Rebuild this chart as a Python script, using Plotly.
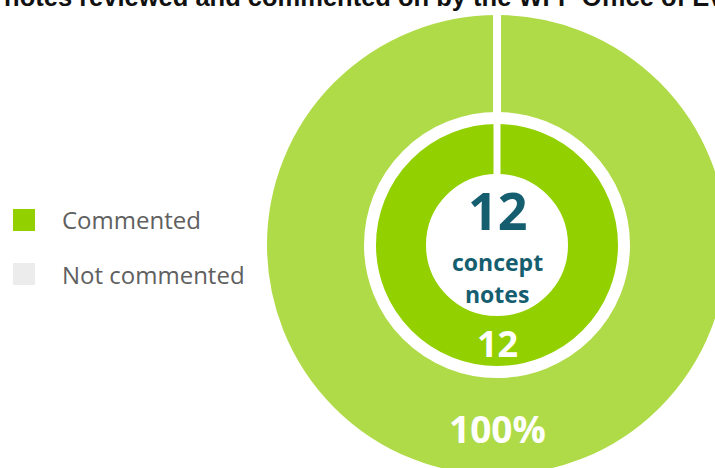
import plotly.graph_objects as go

# ---- data ----
labels = ["Commented", "Not commented"]
outer_values = [12, 0]        # share of concept notes commented (100%)
inner_values = [12, 0]        # number of concept notes commented
total_notes = 12
center_caption = ["concept", "notes"]
title_text = "Concept notes reviewed and commented on by the WFP Office of Evaluation"

# ---- style ----
outer_colors = ["#b0db48", "#ececec"]
inner_colors = ["#92d000", "#ececec"]
legend_colors = ["#92d000", "#ececec"]
teal = "#155e70"

W, H = 735, 482          # canvas a bit larger than the 715x468 view, as in the source (clipped)
CX, CY = 497, 245        # pie centre in px from top-left
R_OUT, HOLE_OUT = 234, 129
R_IN, HOLE_IN = 124.5, 67.5


def dom(r):
    return dict(x=[(CX - r) / W, (CX + r) / W], y=[1 - (CY + r) / H, 1 - (CY - r) / H])


fig = go.Figure()
fig.add_trace(go.Pie(
    labels=labels, values=outer_values, hole=HOLE_OUT / R_OUT, domain=dom(R_OUT),
    sort=False, direction="clockwise", rotation=0,
    marker=dict(colors=outer_colors, line=dict(color="white", width=8)),
    textinfo="none", showlegend=False, hoverinfo="label+percent",
))
fig.add_trace(go.Pie(
    labels=labels, values=inner_values, hole=HOLE_IN / R_IN, domain=dom(R_IN),
    sort=False, direction="clockwise", rotation=0,
    marker=dict(colors=inner_colors, line=dict(color="white", width=7)),
    textinfo="none", showlegend=False, hoverinfo="label+value",
))

# slice labels, at the middle of each ring below the centre (where the single slice's mid-angle lies)
outer_share = f"{round(100 * outer_values[0] / sum(outer_values))}%"
inner_count = str(inner_values[0])
slice_labels = [
    (outer_share, CY + (R_OUT + HOLE_OUT) / 2 + 2, 37),
    (inner_count, CY + (R_IN + HOLE_IN) / 2 + 2, 36),
]

annotations = [
    dict(text=title_text, x=358 / W, y=1 + 3.5 / H, xref="paper", yref="paper",
         xanchor="center", yanchor="middle", showarrow=False,
         font=dict(family="Liberation Sans", size=25.5, color="#111111", weight=700)),
    dict(text=str(total_notes), x=CX / W, y=1 - 209 / H, xref="paper", yref="paper",
         xanchor="center", yanchor="middle", showarrow=False,
         font=dict(family="Open Sans", size=52, color=teal, weight=700)),
]
for txt, yc, fs in slice_labels:
    annotations.append(dict(text=txt, x=CX / W, y=1 - yc / H, xref="paper", yref="paper",
                            xanchor="center", yanchor="middle", showarrow=False,
                            font=dict(family="Open Sans", size=fs, color="white", weight=700)))
for line, yc in zip(center_caption, [262, 294]):
    annotations.append(dict(text=line, x=CX / W, y=1 - yc / H, xref="paper", yref="paper",
                            xanchor="center", yanchor="middle", showarrow=False,
                            font=dict(family="Open Sans", size=23, color=teal, weight=700)))

shapes = []
legend_rows = [220, 274]
for lab, col, yc in zip(labels, legend_colors, legend_rows):
    shapes.append(dict(type="rect", xref="paper", yref="paper",
                       x0=13 / W, x1=35 / W, y0=1 - (yc + 11) / H, y1=1 - (yc - 11) / H,
                       fillcolor=col, line=dict(width=0)))
    annotations.append(dict(text=lab, x=60 / W, y=1 - yc / H, xref="paper", yref="paper",
                            xanchor="left", yanchor="middle", showarrow=False,
                            font=dict(family="Open Sans", size=24, color="#606060")))

fig.update_layout(
    width=W, height=H, margin=dict(l=0, r=0, t=0, b=0),
    paper_bgcolor="white", plot_bgcolor="white",
    annotations=annotations, shapes=shapes, showlegend=False,
)

fig.write_html(
    "out.html",
    config={"displayModeBar": False},
    post_script="document.documentElement.style.overflow='hidden';"
                "document.body.style.margin='0';document.body.style.overflow='hidden';",
)
